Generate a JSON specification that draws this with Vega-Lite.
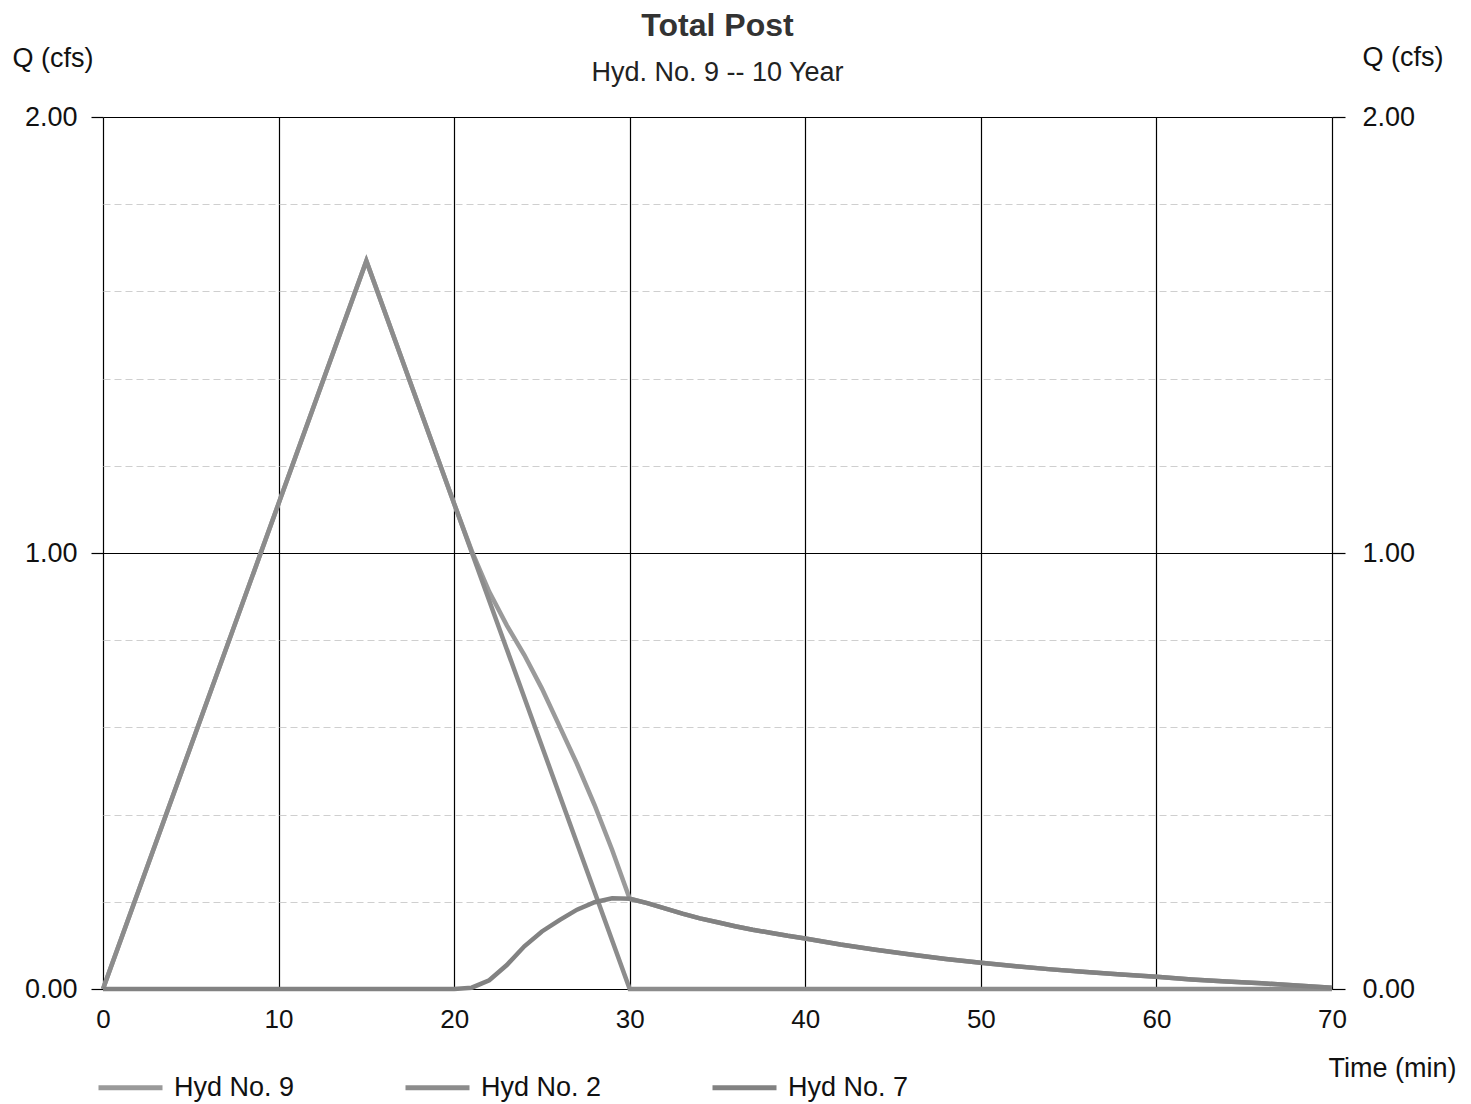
{
  "$schema": "https://vega.github.io/schema/vega-lite/v6.json",
  "width": 1229,
  "height": 872,
  "autosize": {"type": "none"},
  "padding": {"left": 103, "top": 117, "right": 139, "bottom": 115},
  "background": "white",
  "config": {
    "font": "Liberation Sans",
    "view": {"stroke": null}
  },
  "title": {
    "text": "Total Post",
    "subtitle": "Hyd. No. 9 -- 10 Year",
    "anchor": "middle",
    "fontSize": 32,
    "fontWeight": "bold",
    "color": "#333333",
    "subtitleFontSize": 27,
    "subtitleColor": "#222222",
    "subtitlePadding": 17,
    "offset": -44
  },
  "datasets": {
    "flows": [
      {"t": 0, "q": 0, "hyd": "Hyd No. 9"},
      {"t": 15, "q": 1.67, "hyd": "Hyd No. 9"},
      {"t": 20, "q": 1.113, "hyd": "Hyd No. 9"},
      {"t": 21, "q": 1.005, "hyd": "Hyd No. 9"},
      {"t": 22, "q": 0.911, "hyd": "Hyd No. 9"},
      {"t": 23, "q": 0.834, "hyd": "Hyd No. 9"},
      {"t": 24, "q": 0.766, "hyd": "Hyd No. 9"},
      {"t": 25, "q": 0.689, "hyd": "Hyd No. 9"},
      {"t": 26, "q": 0.603, "hyd": "Hyd No. 9"},
      {"t": 27, "q": 0.516, "hyd": "Hyd No. 9"},
      {"t": 28, "q": 0.422, "hyd": "Hyd No. 9"},
      {"t": 29, "q": 0.319, "hyd": "Hyd No. 9"},
      {"t": 30, "q": 0.207, "hyd": "Hyd No. 9"},
      {"t": 31, "q": 0.197, "hyd": "Hyd No. 9"},
      {"t": 32, "q": 0.185, "hyd": "Hyd No. 9"},
      {"t": 33, "q": 0.173, "hyd": "Hyd No. 9"},
      {"t": 34, "q": 0.162, "hyd": "Hyd No. 9"},
      {"t": 35, "q": 0.153, "hyd": "Hyd No. 9"},
      {"t": 36, "q": 0.144, "hyd": "Hyd No. 9"},
      {"t": 37, "q": 0.136, "hyd": "Hyd No. 9"},
      {"t": 38, "q": 0.129, "hyd": "Hyd No. 9"},
      {"t": 39, "q": 0.122, "hyd": "Hyd No. 9"},
      {"t": 40, "q": 0.116, "hyd": "Hyd No. 9"},
      {"t": 42, "q": 0.102, "hyd": "Hyd No. 9"},
      {"t": 44, "q": 0.09, "hyd": "Hyd No. 9"},
      {"t": 46, "q": 0.079, "hyd": "Hyd No. 9"},
      {"t": 48, "q": 0.069, "hyd": "Hyd No. 9"},
      {"t": 50, "q": 0.06, "hyd": "Hyd No. 9"},
      {"t": 52, "q": 0.052, "hyd": "Hyd No. 9"},
      {"t": 54, "q": 0.045, "hyd": "Hyd No. 9"},
      {"t": 56, "q": 0.039, "hyd": "Hyd No. 9"},
      {"t": 58, "q": 0.033, "hyd": "Hyd No. 9"},
      {"t": 60, "q": 0.028, "hyd": "Hyd No. 9"},
      {"t": 62, "q": 0.022, "hyd": "Hyd No. 9"},
      {"t": 64, "q": 0.017, "hyd": "Hyd No. 9"},
      {"t": 66, "q": 0.013, "hyd": "Hyd No. 9"},
      {"t": 68, "q": 0.008, "hyd": "Hyd No. 9"},
      {"t": 70, "q": 0.003, "hyd": "Hyd No. 9"},
      {"t": 0, "q": 0, "hyd": "Hyd No. 2"},
      {"t": 15, "q": 1.67, "hyd": "Hyd No. 2"},
      {"t": 30, "q": 0, "hyd": "Hyd No. 2"},
      {"t": 70, "q": 0, "hyd": "Hyd No. 2"},
      {"t": 0, "q": 0, "hyd": "Hyd No. 7"},
      {"t": 20, "q": 0, "hyd": "Hyd No. 7"},
      {"t": 21, "q": 0.003, "hyd": "Hyd No. 7"},
      {"t": 22, "q": 0.02, "hyd": "Hyd No. 7"},
      {"t": 23, "q": 0.055, "hyd": "Hyd No. 7"},
      {"t": 24, "q": 0.098, "hyd": "Hyd No. 7"},
      {"t": 25, "q": 0.132, "hyd": "Hyd No. 7"},
      {"t": 26, "q": 0.158, "hyd": "Hyd No. 7"},
      {"t": 27, "q": 0.182, "hyd": "Hyd No. 7"},
      {"t": 28, "q": 0.199, "hyd": "Hyd No. 7"},
      {"t": 29, "q": 0.208, "hyd": "Hyd No. 7"},
      {"t": 30, "q": 0.207, "hyd": "Hyd No. 7"},
      {"t": 31, "q": 0.197, "hyd": "Hyd No. 7"},
      {"t": 32, "q": 0.185, "hyd": "Hyd No. 7"},
      {"t": 33, "q": 0.173, "hyd": "Hyd No. 7"},
      {"t": 34, "q": 0.162, "hyd": "Hyd No. 7"},
      {"t": 35, "q": 0.153, "hyd": "Hyd No. 7"},
      {"t": 36, "q": 0.144, "hyd": "Hyd No. 7"},
      {"t": 37, "q": 0.136, "hyd": "Hyd No. 7"},
      {"t": 38, "q": 0.129, "hyd": "Hyd No. 7"},
      {"t": 39, "q": 0.122, "hyd": "Hyd No. 7"},
      {"t": 40, "q": 0.116, "hyd": "Hyd No. 7"},
      {"t": 42, "q": 0.102, "hyd": "Hyd No. 7"},
      {"t": 44, "q": 0.09, "hyd": "Hyd No. 7"},
      {"t": 46, "q": 0.079, "hyd": "Hyd No. 7"},
      {"t": 48, "q": 0.069, "hyd": "Hyd No. 7"},
      {"t": 50, "q": 0.06, "hyd": "Hyd No. 7"},
      {"t": 52, "q": 0.052, "hyd": "Hyd No. 7"},
      {"t": 54, "q": 0.045, "hyd": "Hyd No. 7"},
      {"t": 56, "q": 0.039, "hyd": "Hyd No. 7"},
      {"t": 58, "q": 0.033, "hyd": "Hyd No. 7"},
      {"t": 60, "q": 0.028, "hyd": "Hyd No. 7"},
      {"t": 62, "q": 0.022, "hyd": "Hyd No. 7"},
      {"t": 64, "q": 0.017, "hyd": "Hyd No. 7"},
      {"t": 66, "q": 0.013, "hyd": "Hyd No. 7"},
      {"t": 68, "q": 0.008, "hyd": "Hyd No. 7"},
      {"t": 70, "q": 0.003, "hyd": "Hyd No. 7"}
    ]
  },
  "data": {"name": "flows"},
  "layer": [
    {
      "mark": {"type": "line", "opacity": 0},
      "encoding": {
        "x": {
          "field": "t", "type": "quantitative", "scale": {"domain": [0, 70], "nice": false},
          "axis": {
            "values": [0, 10, 20, 30, 40, 50, 60, 70],
            "grid": true, "gridColor": "#000000", "gridWidth": 1.2, "gridOpacity": 1,
            "ticks": false, "domain": false, "labelPadding": 17,
            "labelFontSize": 26, "labelColor": "#111111", "labelFlush": false,
            "title": "Time (min)", "titleFontSize": 27, "titleFontWeight": "normal", "titleColor": "#111111",
            "titleAnchor": "start", "titleAlign": "left", "titleX": 1225, "titleY": 79, "titleBaseline": "middle"
          }
        },
        "y": {
          "field": "q", "type": "quantitative", "scale": {"domain": [0, 2], "nice": false, "zero": false},
          "axis": {
            "orient": "left", "values": [0.2, 0.4, 0.6, 0.8, 1.2, 1.4, 1.6, 1.8],
            "grid": true, "gridColor": "#cfcfcf", "gridDash": [7, 4], "gridWidth": 1.2,
            "labels": false, "ticks": false, "domain": false, "title": null
          }
        },
        "detail": {"field": "hyd"}
      }
    },
    {
      "mark": {"type": "line", "opacity": 0},
      "encoding": {
        "x": {"field": "t", "type": "quantitative"},
        "y": {
          "field": "q", "type": "quantitative",
          "axis": {
            "orient": "left", "values": [0, 1, 2], "format": ".2f",
            "grid": true, "gridColor": "#000000", "gridWidth": 1.2, "gridOpacity": 1,
            "ticks": true, "tickSize": 12, "tickColor": "#000000", "tickWidth": 1.2,
            "domain": false, "labelPadding": 14,
            "labelFontSize": 27, "labelColor": "#111111",
            "title": "Q (cfs)", "titleFontSize": 27, "titleFontWeight": "normal", "titleColor": "#111111",
            "titleAngle": 0, "titleAlign": "left", "titleAnchor": null, "titleX": -91, "titleY": -59, "titleBaseline": "middle"
          }
        },
        "detail": {"field": "hyd"}
      }
    },
    {
      "mark": {"type": "line", "opacity": 0},
      "encoding": {
        "x": {"field": "t", "type": "quantitative"},
        "y": {
          "field": "q", "type": "quantitative",
          "axis": {
            "orient": "right", "values": [0, 1, 2], "format": ".2f",
            "grid": false,
            "ticks": true, "tickSize": 13, "tickColor": "#000000", "tickWidth": 1.2,
            "domain": false, "labelPadding": 17,
            "labelFontSize": 27, "labelColor": "#111111",
            "title": "Q (cfs)", "titleFontSize": 27, "titleFontWeight": "normal", "titleColor": "#111111",
            "titleAngle": 0, "titleAlign": "left", "titleAnchor": null, "titleX": 30, "titleY": -60, "titleBaseline": "middle"
          }
        },
        "detail": {"field": "hyd"}
      }
    },
    {
      "mark": {"type": "line", "strokeWidth": 4.5, "strokeJoin": "miter", "strokeCap": "butt"},
      "encoding": {
        "x": {"field": "t", "type": "quantitative"},
        "y": {"field": "q", "type": "quantitative", "axis": null},
        "color": {
          "field": "hyd", "type": "nominal",
          "scale": {"domain": ["Hyd No. 9", "Hyd No. 2", "Hyd No. 7"], "range": ["#9a9a9a", "#8c8c8c", "#828282"]},
          "legend": {
            "orient": "none", "legendX": -7, "legendY": 936, "direction": "horizontal", "columns": 3,
            "title": null, "symbolType": "stroke", "symbolSize": 4096, "symbolStrokeWidth": 5,
            "labelFontSize": 27, "labelColor": "#111111", "labelOffset": 9, "columnPadding": 100, "labelLimit": 300
          }
        }
      }
    }
  ],
  "resolve": {"scale": {"y": "shared", "x": "shared"}, "axis": {"y": "independent"}}
}
